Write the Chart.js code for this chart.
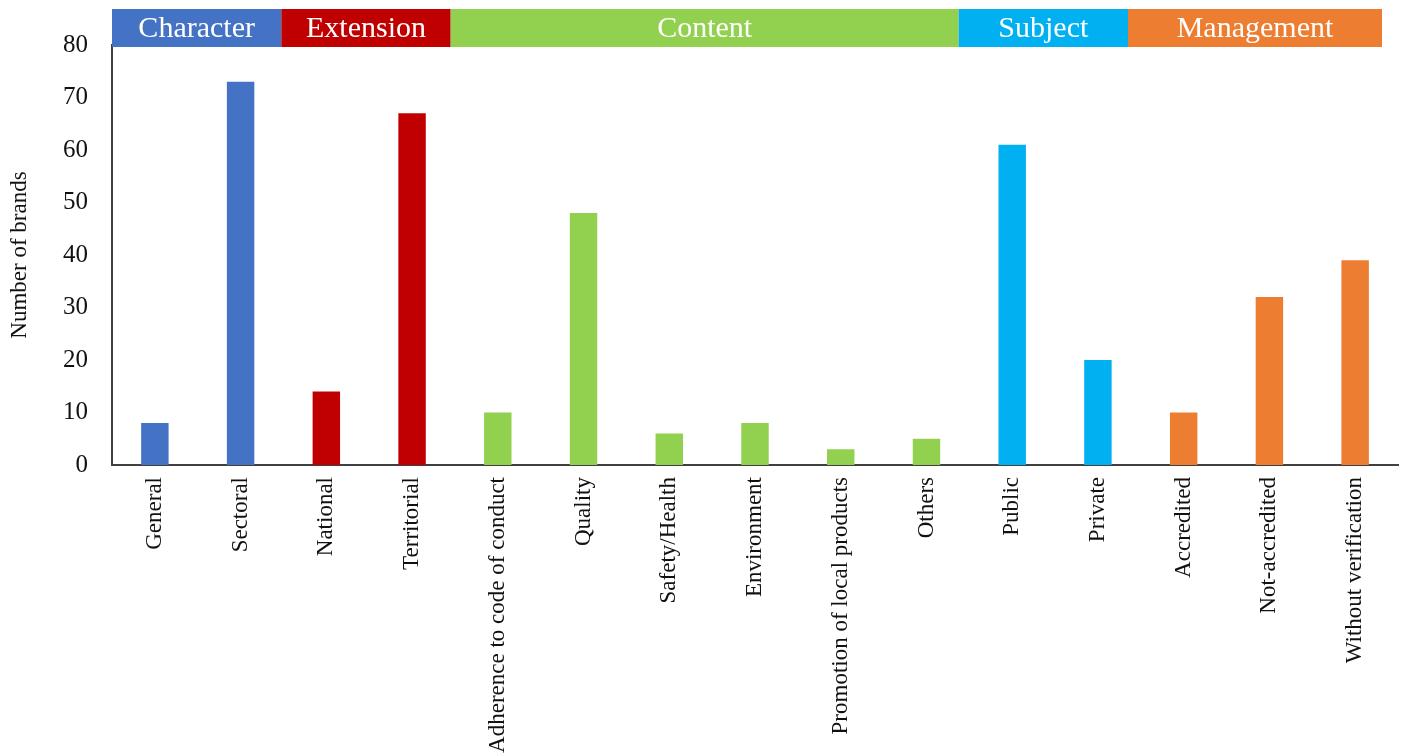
<!DOCTYPE html>
<html>
<head>
<meta charset="utf-8">
<script src="https://cdn.jsdelivr.net/npm/chart.js@4"></script>
<style>
    html, body { margin: 0; padding: 0; background: #fff; }
    #wrap { width: 1405px; height: 756px; }
</style>
</head>
<body>
<div id="wrap"><canvas id="brand-chart"></canvas></div>
<script>
const categories = ['General', 'Sectoral', 'National', 'Territorial', 'Adherence to code of conduct',
    'Quality', 'Safety/Health', 'Environment', 'Promotion of local products', 'Others',
    'Public', 'Private', 'Accredited', 'Not-accredited', 'Without verification'];
const brandCounts = [8, 73, 14, 67, 10, 48, 6, 8, 3, 5, 61, 20, 10, 32, 39];
const groupNames = ['Character', 'Extension', 'Content', 'Subject', 'Management'];
const groupSizes = [2, 2, 6, 2, 3];
const groupColors = ['#4472C4', '#C00000', '#92D050', '#00B0F0', '#ED7D31'];

const serif = '"Liberation Serif", "DejaVu Serif", serif';

// colour each bar by the group it belongs to
const barColors = [];
groupSizes.forEach((size, g) => {
    for (let i = 0; i < size; i++) barColors.push(groupColors[g]);
});

const groupBands = {
    id: 'groupBands',
    afterDraw(chart) {
        const { ctx, chartArea, scales: { x } } = chart;
        const half = (x.getPixelForValue(1) - x.getPixelForValue(0)) / 2;
        const span = chartArea.right - chartArea.left;
        const shrink = (span - 16) / span;
        const top = chartArea.top - 36;
        const h = 38;
        let start = 0;
        ctx.save();
        groupSizes.forEach((size, g) => {
            const x0 = chartArea.left + (x.getPixelForValue(start) - half - chartArea.left) * shrink;
            const x1 = chartArea.left + (x.getPixelForValue(start + size - 1) + half - chartArea.left) * shrink;
            ctx.fillStyle = groupColors[g];
            ctx.fillRect(x0, top, x1 - x0, h);
            ctx.fillStyle = '#ffffff';
            ctx.font = '30px ' + serif;
            ctx.textAlign = 'center';
            ctx.textBaseline = 'middle';
            ctx.fillText(groupNames[g], (x0 + x1) / 2, top + h / 2 + 1);
            start += size;
        });
        ctx.restore();
    }
};

new Chart(document.getElementById('brand-chart'), {
    type: 'bar',
    data: {
        labels: categories,
        datasets: [{
            data: brandCounts,
            backgroundColor: barColors,
            barPercentage: 0.32,
            categoryPercentage: 1
        }]
    },
    options: {
        responsive: true,
        maintainAspectRatio: false,
        animation: false,
        layout: { padding: { top: 45, right: 7, left: 0, bottom: 0 } },
        plugins: {
            legend: { display: false },
            tooltip: { enabled: false }
        },
        scales: {
            x: {
                grid: { display: false, drawTicks: false },
                border: { display: true, color: '#404040', width: 2 },
                ticks: {
                    color: '#111',
                    font: { family: serif, size: 23 },
                    maxRotation: 90,
                    minRotation: 90,
                    padding: 12,
                    autoSkip: false
                },
                afterFit(scale) { scale.height = 291; }
            },
            y: {
                min: 0,
                max: 80,
                grid: { display: false, drawTicks: false },
                border: { display: true, color: '#404040', width: 2 },
                ticks: {
                    stepSize: 10,
                    color: '#111',
                    font: { family: serif, size: 25 },
                    padding: 24
                },
                title: {
                    display: true,
                    text: 'Number of brands',
                    color: '#111',
                    font: { family: serif, size: 23 },
                    padding: { top: 6, bottom: 0 }
                },
                afterFit(scale) { scale.width = 112; }
            }
        }
    },
    plugins: [groupBands]
});
</script>
</body>
</html>
